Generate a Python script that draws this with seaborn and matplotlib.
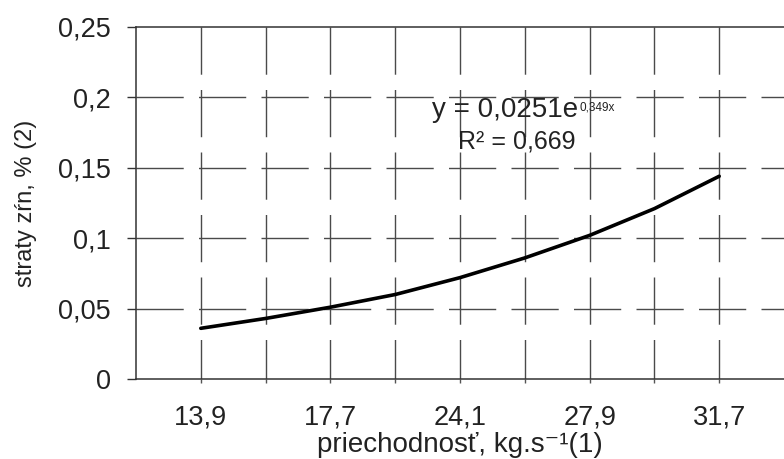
import numpy as np
import pandas as pd
import matplotlib
matplotlib.use("Agg")
import matplotlib.pyplot as plt
import seaborn as sns

# ---- data ----
categories = ["13,9", "17,7", "24,1", "27,9", "31,7"]
cat_pos = [1, 2, 3, 4, 5]
# trend curve values at half-category steps
curve_x = [1.0, 1.5, 2.0, 2.5, 3.0, 3.5, 4.0, 4.5, 5.0]
curve_y = [0.036, 0.043, 0.051, 0.060, 0.072, 0.086, 0.102, 0.121, 0.144]
y_ticks = [0, 0.05, 0.1, 0.15, 0.2, 0.25]
y_ticklabels = ["0", "0,05", "0,1", "0,15", "0,2", "0,25"]
eq_main = "y = 0,0251e"
eq_sup = "0,349x"
r2_text = "R² = 0,669"
xlabel = "priechodnosť, kg.s⁻¹(1)"
ylabel = "straty zŕn, % (2)"

sns.set_theme(style="white")
plt.rcParams["font.family"] = ["Liberation Sans", "DejaVu Sans"]

TXT = "#222222"
GRID = "#4a4a4a"

W, H = 784, 459
fig = plt.figure(figsize=(W / 100, H / 100), dpi=100)
ax_l, ax_r, ax_b, ax_t = 136, 784, 379, 27
ax = fig.add_axes([ax_l / W, 1 - ax_b / H, (ax_r - ax_l) / W, (ax_b - ax_t) / H])
ax.set_facecolor("white")

df = pd.DataFrame({"x": curve_x, "y": curve_y})
xmin, xmax = cat_pos[0] - 0.5, cat_pos[-1] + 0.5
ymin, ymax = y_ticks[0], y_ticks[-1]
ax.set_xlim(xmin, xmax)
ax.set_ylim(ymin, ymax)

# dashed grid
dash = (0, (34, 11))
for yv in y_ticks[1:-1]:
    ax.axhline(yv, color=GRID, lw=1.0, linestyle=dash, zorder=1)
vpos = np.arange(cat_pos[0], cat_pos[-1] + 0.01, 0.5)
ax.vlines(vpos, ymax, ymin, colors=GRID, lw=1.0, linestyles=[dash], zorder=1)

sns.lineplot(data=df, x="x", y="y", ax=ax, color="black", linewidth=2.6,
             zorder=3, legend=False)

# axes styling
for s in ["left", "bottom", "top"]:
    ax.spines[s].set_visible(True)
    ax.spines[s].set_color("#333333")
    ax.spines[s].set_linewidth(1.1)
ax.spines["right"].set_visible(False)

ax.set_yticks(y_ticks)
ax.set_yticklabels(y_ticklabels)
ax.set_xticks(cat_pos)
ax.set_xticklabels(categories)
ax.set_xticks(vpos, minor=True)
ax.tick_params(axis="y", which="major", direction="out", length=6.5, width=1.0,
               color="#333333", pad=11.5, labelsize=19.5, labelcolor=TXT, left=True)
ax.tick_params(axis="x", which="both", direction="out", length=3, width=1.0,
               color="#555555", bottom=True)
ax.tick_params(axis="x", which="major", pad=15.5, labelsize=19.5, labelcolor=TXT)

ax.set_xlabel(xlabel, fontsize=20, color=TXT)
ax.xaxis.label.set_va("baseline")
ax.xaxis.set_label_coords(0.5, (ax_b - 452) / (ax_b - ax_t))
ax.set_ylabel(ylabel, fontsize=17, color=TXT)
ax.yaxis.label.set_va("center")
ax.yaxis.set_label_coords((26 - ax_l) / (ax_r - ax_l), 0.5)

def axc(px, py):
    return (px - ax_l) / (ax_r - ax_l), (ax_b - py) / (ax_b - ax_t)

x1, y1 = axc(578, 117)
ax.text(x1, y1, eq_main, transform=ax.transAxes, ha="right", va="baseline",
        fontsize=20, color=TXT)
x2, y2 = axc(580, 110)
ax.text(x2, y2, eq_sup, transform=ax.transAxes, ha="left", va="baseline",
        fontsize=8.5, color=TXT)
x3, y3 = axc(516.5, 148)
ax.text(x3, y3, r2_text, transform=ax.transAxes, ha="center", va="baseline",
        fontsize=18, color=TXT)

fig.savefig("out.png", dpi=100, facecolor="white")
